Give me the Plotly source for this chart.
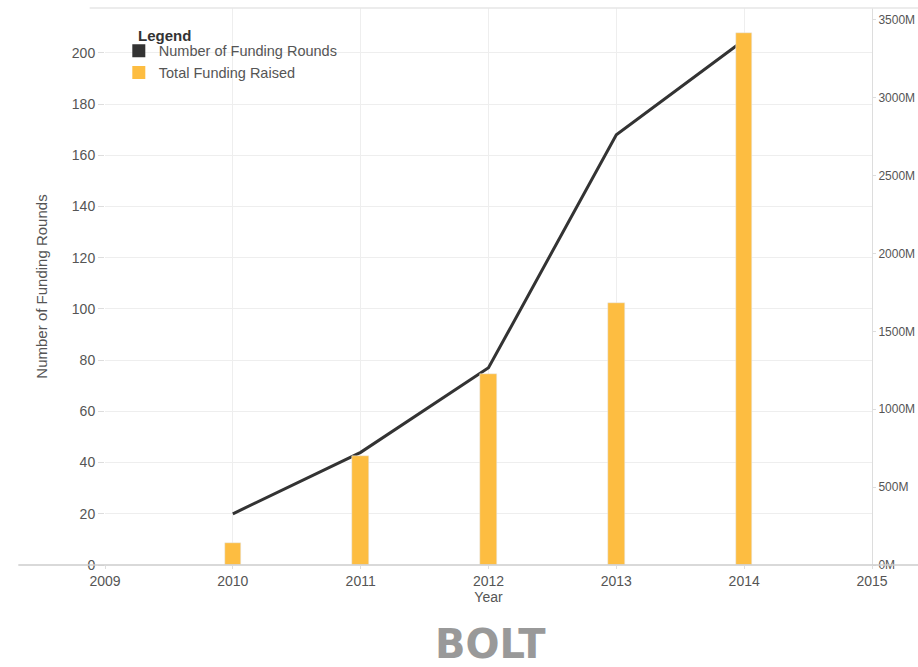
import plotly.graph_objects as go

years = [2010, 2011, 2012, 2013, 2014]
funding_rounds = [20, 44, 77, 168, 205]
funding_raised_m = [141, 701, 1229, 1680, 3417]
left_ticks = [0, 20, 40, 60, 80, 100, 120, 140, 160, 180, 200]
right_ticks = [0, 500, 1000, 1500, 2000, 2500, 3000, 3500]
right_labels = ["0M", "500M", "1000M", "1500M", "2000M", "2500M", "3000M", "3500M"]
x_ticks = [2009, 2010, 2011, 2012, 2013, 2014, 2015]

BAR = "#FDBD41"
LINE = "#333333"
FONT = "Liberation Sans, Arial, sans-serif"

fig = go.Figure()
fig.add_trace(go.Bar(x=years, y=funding_raised_m, yaxis="y2", marker_color=BAR,
                     width=0.13, showlegend=False, name="Total Funding Raised"))
fig.add_trace(go.Scatter(x=years, y=funding_rounds, mode="lines",
                         line=dict(color=LINE, width=3), showlegend=False,
                         name="Number of Funding Rounds"))
# legend entries with square swatches
fig.add_trace(go.Scatter(x=[None], y=[None], mode="markers", name="Number of Funding Rounds",
                         marker=dict(symbol="square", size=13, color=LINE)))
fig.add_trace(go.Scatter(x=[None], y=[None], mode="markers", name="Total Funding Raised",
                         marker=dict(symbol="square", size=13, color=BAR)))

fig.update_layout(
    width=918, height=667,
    margin=dict(l=105, r=46, t=8, b=102, autoexpand=False),
    paper_bgcolor="white", plot_bgcolor="white",
    font=dict(family=FONT, size=14, color="#555"),
    xaxis=dict(range=[2009, 2015], tickvals=x_ticks, showgrid=True, gridcolor="#eeeeee",
               ticks="outside", ticklen=3, tickcolor="#dddddd", zeroline=False,
               title=dict(text="Year", standoff=0, font=dict(size=14, color="#555")),
               tickfont=dict(size=14, color="#555"), showline=False, automargin=False),
    yaxis=dict(range=[0, 217.5], tickvals=left_ticks, showgrid=True, gridcolor="#eeeeee",
               ticks="outside", ticklen=6, tickcolor="#dddddd", zeroline=False,
               title=dict(text="Number of Funding Rounds", standoff=20,
                          font=dict(size=15, color="#555")),
               tickfont=dict(size=14, color="#555"), automargin=False),
    yaxis2=dict(range=[0, 3577], tickvals=right_ticks, ticktext=right_labels,
                overlaying="y", side="right", showgrid=False, zeroline=False,
                ticks="outside", ticklen=3, tickcolor="#dddddd",
                showline=True, linecolor="#dddddd", linewidth=1,
                tickfont=dict(size=12, color="#555"), automargin=False),
    legend=dict(x=0.018, y=0.952, xanchor="left", yanchor="top",
                bgcolor="rgba(0,0,0,0)",
                font=dict(size=14.5, color="#555"), itemwidth=30, tracegroupgap=0),
    bargap=0,
)

# legend heading
fig.add_annotation(text="<b>Legend</b>", xref="paper", yref="paper",
                   x=(136 - 105) / 767, y=(565 - 35) / 557, xanchor="left", yanchor="middle",
                   showarrow=False, font=dict(size=15, color="#333"))

# x axis baseline extending to the left, top border line
fig.add_shape(type="line", xref="paper", yref="paper", x0=-0.113, x1=1.1, y0=0, y1=0,
              line=dict(color="#cccccc", width=1.5))
fig.add_shape(type="line", xref="paper", yref="paper", x0=-0.02, x1=1.1, y0=1, y1=1,
              line=dict(color="#e6e6e6", width=1.5))

fig.add_annotation(text="<b>BOLT</b>", xref="paper", yref="paper", x=0.502,
                   y=-(644 - 565) / 557,
                   xanchor="center", yanchor="middle", showarrow=False,
                   font=dict(family="DejaVu Sans, sans-serif", size=40, color="#999999"))

fig.write_html("out.html")
